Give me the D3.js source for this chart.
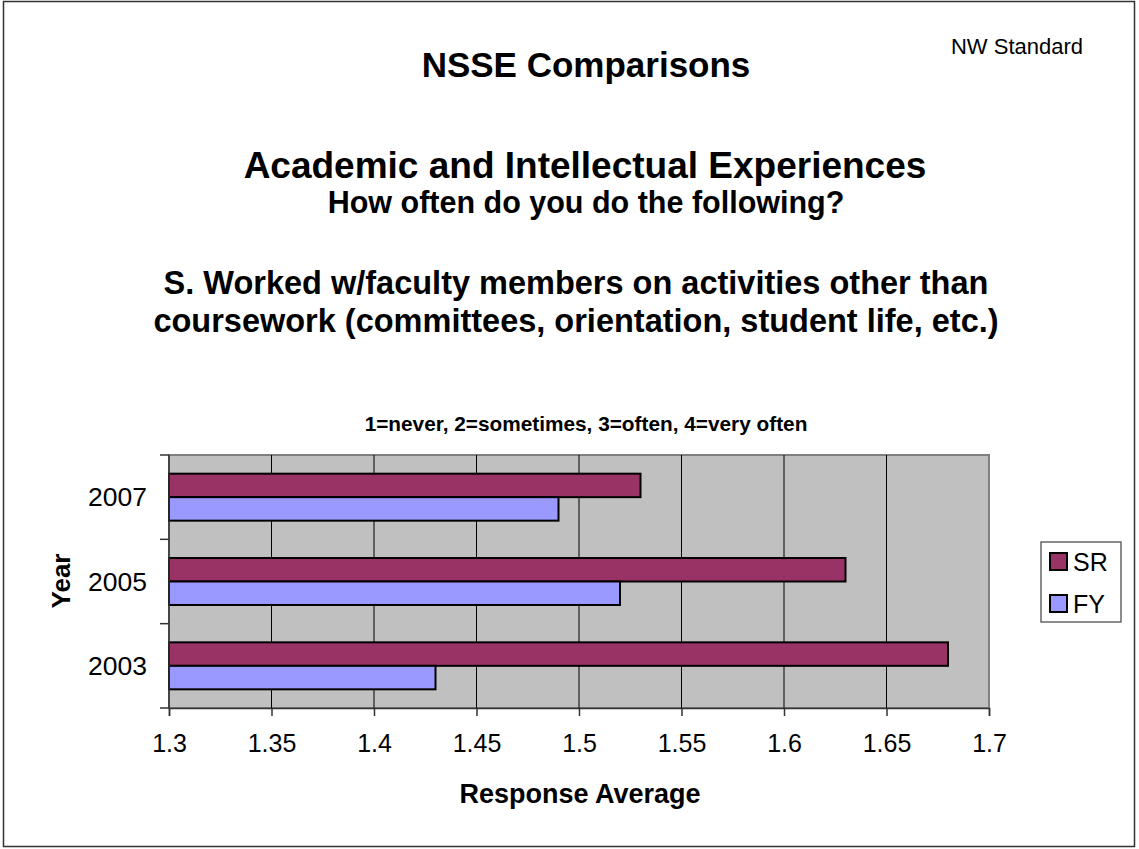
<!DOCTYPE html>
<html>
<head>
<meta charset="utf-8">
<script src="https://cdn.jsdelivr.net/npm/d3@7"></script>
<style>
  body { margin: 0; background: #fff; }
  svg text { font-family: Arial, "Liberation Sans", sans-serif; }
</style>
</head>
<body>
<div id="chart"></div>
<script>
// data
const years = ['2007', '2005', '2003'];
const seriesNames = ['SR', 'FY'];
const srValues = [1.53, 1.63, 1.68];
const fyValues = [1.49, 1.52, 1.43];
const xTicks = [1.3, 1.35, 1.4, 1.45, 1.5, 1.55, 1.6, 1.65, 1.7];
const colors = { SR: '#993366', FY: '#9999ff' };

const W = 1139, H = 849;
const svg = d3.select('#chart').append('svg')
  .attr('width', W)
  .attr('height', H);

svg.append('rect')
  .attr('x', 3.5).attr('y', 1.5)
  .attr('width', 1131).attr('height', 845)
  .attr('fill', '#fff')
  .attr('stroke', '#333')
  .attr('stroke-width', 1.5);

// titles
function title(txt, x, y, size, weight) {
  svg.append('text')
    .attr('x', x).attr('y', y)
    .attr('text-anchor', 'middle')
    .style('font-size', size + 'px')
    .style('font-weight', weight)
    .text(txt);
}
title('NSSE Comparisons', 586, 77, 35, 'bold');
title('NW Standard', 1017, 54, 22, 'normal');
title('Academic and Intellectual Experiences', 585, 178, 37, 'bold');
title('How often do you do the following?', 586, 213, 30.5, 'bold');
title('S. Worked w/faculty members on activities other than', 576, 294, 32.5, 'bold');
title('coursework (committees, orientation, student life, etc.)', 576, 332, 32.5, 'bold');
title('1=never, 2=sometimes, 3=often, 4=very often', 586, 431, 20.8, 'bold');

// plot area
const pLeft = 169, pRight = 989, pTop = 455, pBottom = 708;

const x = d3.scaleLinear().domain([1.3, 1.7]).range([pLeft, pRight]);
const y = d3.scaleBand().domain(years).range([pTop, pBottom])
  .paddingInner(0.443).paddingOuter(0.2215);
const ySub = d3.scaleBand().domain(seriesNames).range([0, y.bandwidth()]);

svg.append('rect')
  .attr('x', pLeft).attr('y', pTop)
  .attr('width', pRight - pLeft).attr('height', pBottom - pTop)
  .attr('fill', '#c0c0c0')
  .attr('stroke', '#808080')
  .attr('stroke-width', 2);

// gridlines
svg.append('g').selectAll('line')
  .data(xTicks.slice(1, -1))
  .join('line')
  .attr('x1', d => x(d)).attr('x2', d => x(d))
  .attr('y1', pTop).attr('y2', pBottom)
  .attr('stroke', '#000')
  .attr('stroke-width', 1);

// bars
const rows = [];
years.forEach((yr, i) => {
  rows.push({ year: yr, s: 'SR', v: srValues[i] });
  rows.push({ year: yr, s: 'FY', v: fyValues[i] });
});

svg.append('g').selectAll('rect')
  .data(rows)
  .join('rect')
  .attr('x', x(1.3))
  .attr('y', d => y(d.year) + ySub(d.s))
  .attr('width', d => x(d.v) - x(1.3))
  .attr('height', ySub.bandwidth())
  .attr('fill', d => colors[d.s])
  .attr('stroke', '#000')
  .attr('stroke-width', 2);

// axes
const xAxis = svg.append('g')
  .attr('transform', `translate(0,${pBottom})`)
  .call(d3.axisBottom(x).tickValues(xTicks).tickSize(8).tickPadding(18)
    .tickFormat(d3.format('')));
xAxis.select('.domain').attr('stroke', '#333').attr('stroke-width', 1.5);
xAxis.selectAll('.tick line').attr('stroke', '#333').attr('stroke-width', 1.5);
xAxis.selectAll('text')
  .style('font-size', '25px')
  .attr('fill', '#000');

const yTickScale = d3.scaleLinear().domain([0, 3]).range([pBottom, pTop]);
const yAxisG = svg.append('g')
  .attr('transform', `translate(${pLeft},0)`);
yAxisG.append('line')
  .attr('x1', 0).attr('x2', 0)
  .attr('y1', pTop).attr('y2', pBottom)
  .attr('stroke', '#333').attr('stroke-width', 1.5);
yAxisG.selectAll('.ytick')
  .data(d3.range(4))
  .join('line')
  .attr('class', 'ytick')
  .attr('x1', -9).attr('x2', 0)
  .attr('y1', d => yTickScale(d)).attr('y2', d => yTickScale(d))
  .attr('stroke', '#333').attr('stroke-width', 1.5);
yAxisG.selectAll('.ylab')
  .data(years)
  .join('text')
  .attr('class', 'ylab')
  .attr('x', -22)
  .attr('y', d => y(d) + y.bandwidth() / 2)
  .attr('dy', '0.35em')
  .attr('text-anchor', 'end')
  .style('font-size', '26.5px')
  .text(d => d);

// axis titles
svg.append('text')
  .attr('transform', 'translate(70,581) rotate(-90)')
  .attr('text-anchor', 'middle')
  .style('font-size', '26px')
  .style('font-weight', 'bold')
  .text('Year');

svg.append('text')
  .attr('x', 580).attr('y', 803)
  .attr('text-anchor', 'middle')
  .style('font-size', '27px')
  .style('font-weight', 'bold')
  .text('Response Average');

// legend
const lg = svg.append('g').attr('transform', 'translate(1041,542)');
lg.append('rect')
  .attr('width', 80).attr('height', 80)
  .attr('fill', '#fff')
  .attr('stroke', '#666')
  .attr('stroke-width', 1.5);
const li = lg.selectAll('.item')
  .data(seriesNames)
  .join('g')
  .attr('class', 'item')
  .attr('transform', (d, i) => `translate(9,${11 + i * 42})`);
li.append('rect')
  .attr('width', 17).attr('height', 17)
  .attr('fill', d => colors[d])
  .attr('stroke', '#000')
  .attr('stroke-width', 2);
li.append('text')
  .attr('x', 23).attr('y', 18)
  .style('font-size', '25px')
  .text(d => d);
</script>
</body>
</html>
